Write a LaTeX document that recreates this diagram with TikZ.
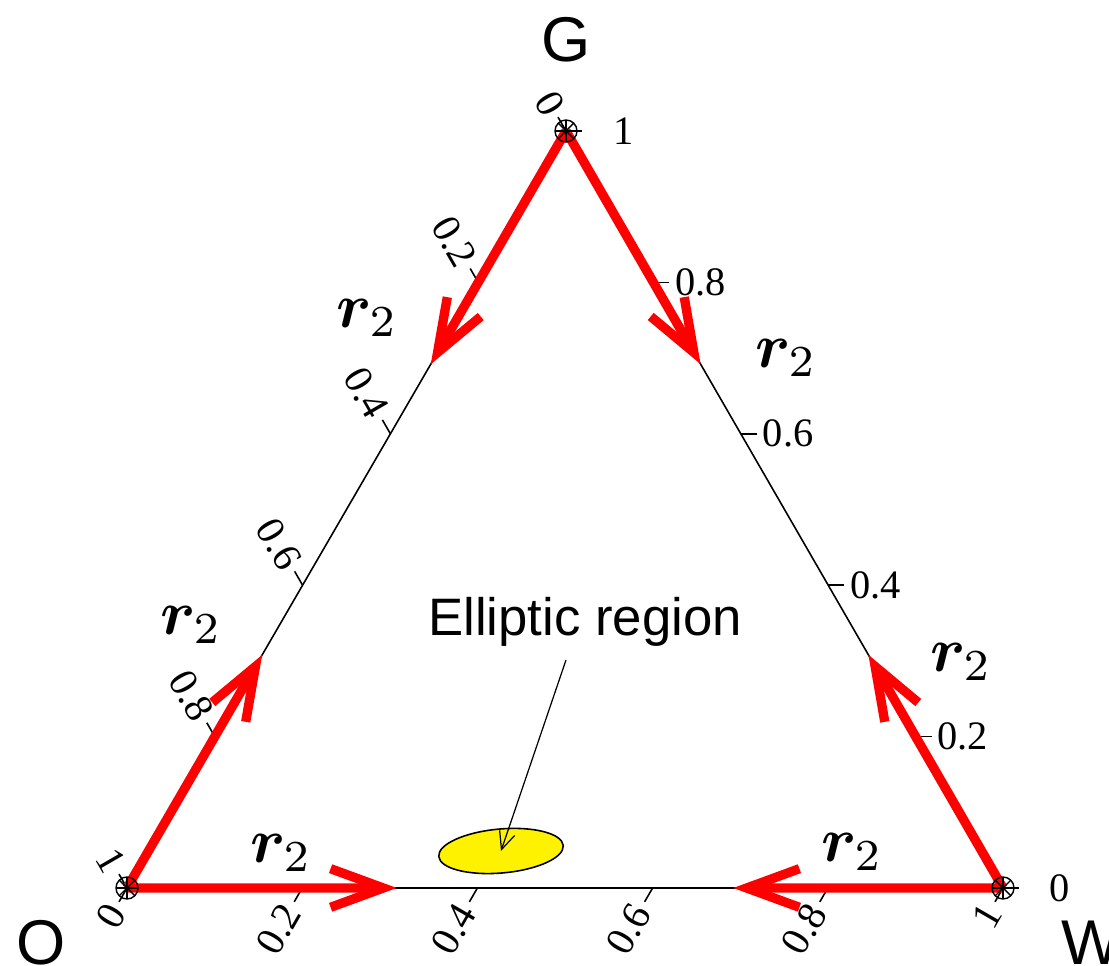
\documentclass[tikz,border=0pt]{standalone}
\usepackage{amsmath,bm}
\usepackage{fontspec}
\newfontfamily\tickfont{Liberation Serif}
\newfontfamily\helv{Liberation Sans}
\usetikzlibrary{arrows.meta,calc,shapes.geometric}
\begin{document}
\begin{tikzpicture}[x=0.02cm,y=0.02cm,
  edge/.style={line width=0.9pt},
  flow/.style={red, line width=5.3pt, -{Straight Barb[length=30pt,width=22pt]}},
  tickmark/.style={line width=0.9pt},
  ticklabel/.style={font=\tickfont\fontsize{23}{26}\selectfont, inner sep=3pt},
  vlabel/.style={font=\helv\fontsize{36}{40}\selectfont, anchor=base, inner sep=0pt},
  rlabel/.style={scale=3.6, inner sep=0pt},
  marker/.style={line width=0.8pt}]
\useasboundingbox (0,0) rectangle (1109,966);

\coordinate (O) at (127,78);
\coordinate (W) at (1003,78);
\coordinate (G) at (566,835);

% triangle
\draw[edge] (O) -- (W) -- (G) -- cycle;

% left edge ticks (0 at G, 1 at O)
\foreach \v [count=\i] in {0,0.2,0.4,0.6,0.8,1}
  \draw[tickmark] ($(G)!\v!(O)$) -- ++(120:16)
    node[ticklabel, anchor=east, rotate=-60] (ltl\i) {\v};

% right edge ticks (1 at G, 0 at W)
\foreach \t/\v/\s [count=\i] in {0/1/0.5cm,0.2/0.8/0cm,0.4/0.6/0cm,0.6/0.4/0cm,0.8/0.2/0cm,1/0/0.48cm}
  \draw[tickmark] ($(G)!\t!(W)$) -- ++(16,0)
    node[ticklabel, anchor=west, xshift=\s] (rtl\i) {\v};

% bottom edge ticks (0 at O, 1 at W)
\foreach \v [count=\i] in {0,0.2,0.4,0.6,0.8,1}
  \draw[tickmark] ($(O)!\v!(W)$) -- ++(240:16)
    node[ticklabel, anchor=east, rotate=60] (btl\i) {\v};

% red flow arrows
\coordinate (GO) at ($(G)!0.308!(O)$);
\coordinate (GW) at ($(G)!0.308!(W)$);
\coordinate (OG) at ($(O)!0.308!(G)$);
\coordinate (OW) at ($(O)!0.308!(W)$);
\coordinate (WG) at ($(W)!0.308!(G)$);
\coordinate (WO) at ($(W)!0.308!(O)$);
\draw[flow] (G) -- (GO);
\draw[flow] (G) -- (GW);
\draw[flow] (O) -- (OG);
\draw[flow] (O) -- (OW);
\draw[flow] (W) -- (WG);
\draw[flow] (W) -- (WO);

% vertex markers
\foreach \p in {O,W,G}{
  \draw[marker] (\p) circle (11);
  \foreach \a in {0,45,90,135}
    \draw[marker] ($(\p)+(\a:11)$) -- ($(\p)+(\a+180:11)$);
}

% r_2 labels
\node[rlabel] (r1) at (367,648) {$\bm{r}_2$};
\node[rlabel] (r2) at (786,608) {$\bm{r}_2$};
\node[rlabel] (r3) at (191,341) {$\bm{r}_2$};
\node[rlabel] (r4) at (961,304) {$\bm{r}_2$};
\node[rlabel] (r5) at (281,113) {$\bm{r}_2$};
\node[rlabel] (r6) at (852,114) {$\bm{r}_2$};

% vertex labels
\node[vlabel] (lG) at (566,904) {G};
\node[vlabel] (lO) at (41.5,1) {O};
\node[vlabel] (lW) at (1091,1) {W};

% elliptic region
\node[ellipse, draw, fill=yellow, line width=0.9pt, inner sep=0pt,
      minimum width=2.5cm, minimum height=0.88cm, rotate=5] (ell) at (501,115) {};
\node[font=\helv\fontsize{30}{34}\selectfont, anchor=base, inner sep=0pt] (lab) at (585,330) {Elliptic region};
\coordinate (tail) at (566,306);
\draw[line width=0.7pt, -{Straight Barb[length=10pt,width=9pt]}] (tail) -- (ell.center);
\end{tikzpicture}
\end{document}
